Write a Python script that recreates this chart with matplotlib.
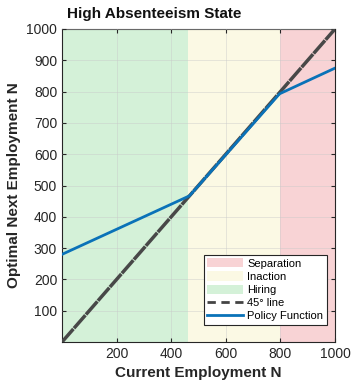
import numpy as np
import matplotlib.pyplot as plt
from matplotlib.patches import Patch
from matplotlib.lines import Line2D

plt.rcParams['font.family'] = ['Liberation Sans', 'DejaVu Sans']

# region bounds
hire_end = 462
sep_start = 800
xmax = 1000

# 45 degree line
diag_x = [0, 1000]
diag_y = [0, 1000]

# policy function (piecewise)
policy_x = [0, 467, 797, 1000]
policy_y = [280, 467, 793, 875]

xticks = [200, 400, 600, 800, 1000]
yticks = [100, 200, 300, 400, 500, 600, 700, 800, 900, 1000]

fig = plt.figure(figsize=(3.51, 3.80), dpi=100)
ax = fig.add_axes([62/351, 38/380, 273/351, 313/380])

ax.axvspan(0, hire_end, color='#d4f1d8', lw=0)
ax.axvspan(hire_end, sep_start, color='#fbf9e4', lw=0)
ax.axvspan(sep_start, xmax, color='#f8d3d5', lw=0)

ax.plot(diag_x, diag_y, color='#484848', lw=2.5, linestyle=(0, (5, 0.25)), zorder=3)
ax.plot(policy_x, policy_y, color='#0a72b8', lw=2.0, zorder=4)

ax.set_xlim(0, 1000)
ax.set_ylim(0, 1000)
ax.set_xticks(xticks)
ax.set_yticks(yticks)
ax.grid(True, color='#c8c8c8', lw=0.6, alpha=0.5)
ax.set_axisbelow(False)
ax.tick_params(direction='in', top=True, right=True, labelsize=10, colors='#262626', length=3)
for s in ax.spines.values():
    s.set_color('#262626')
    s.set_linewidth(0.8)

ax.set_xlabel('Current Employment N', fontsize=11, fontweight='bold', color='#262626', labelpad=4)
ax.set_ylabel('Optimal Next Employment N', fontsize=11, fontweight='bold', color='#262626', labelpad=4)
ax.text(0.02, 1.025, 'High Absenteeism State', transform=ax.transAxes, fontsize=11,
        fontweight='bold', color='#111111', ha='left', va='bottom')

handles = [Patch(facecolor='#f8d3d5', edgecolor='none', label='Separation'),
           Patch(facecolor='#fbf9e4', edgecolor='none', label='Inaction'),
           Patch(facecolor='#d4f1d8', edgecolor='none', label='Hiring'),
           Line2D([], [], color='#444444', lw=2, linestyle=(0, (3, 2)), label='45\u00b0 line'),
           Line2D([], [], color='#0a72b8', lw=2, label='Policy Function')]
leg = ax.legend(handles=handles, loc='lower right', bbox_to_anchor=(0.97, 0.055), fontsize=8,
                frameon=True, fancybox=False, edgecolor='#262626', framealpha=1,
                handlelength=3.2, handleheight=0.9, labelspacing=0.25, borderpad=0.3,
                handletextpad=0.4, borderaxespad=0)
leg.get_frame().set_linewidth(0.8)

fig.savefig('out.png', dpi=100)
